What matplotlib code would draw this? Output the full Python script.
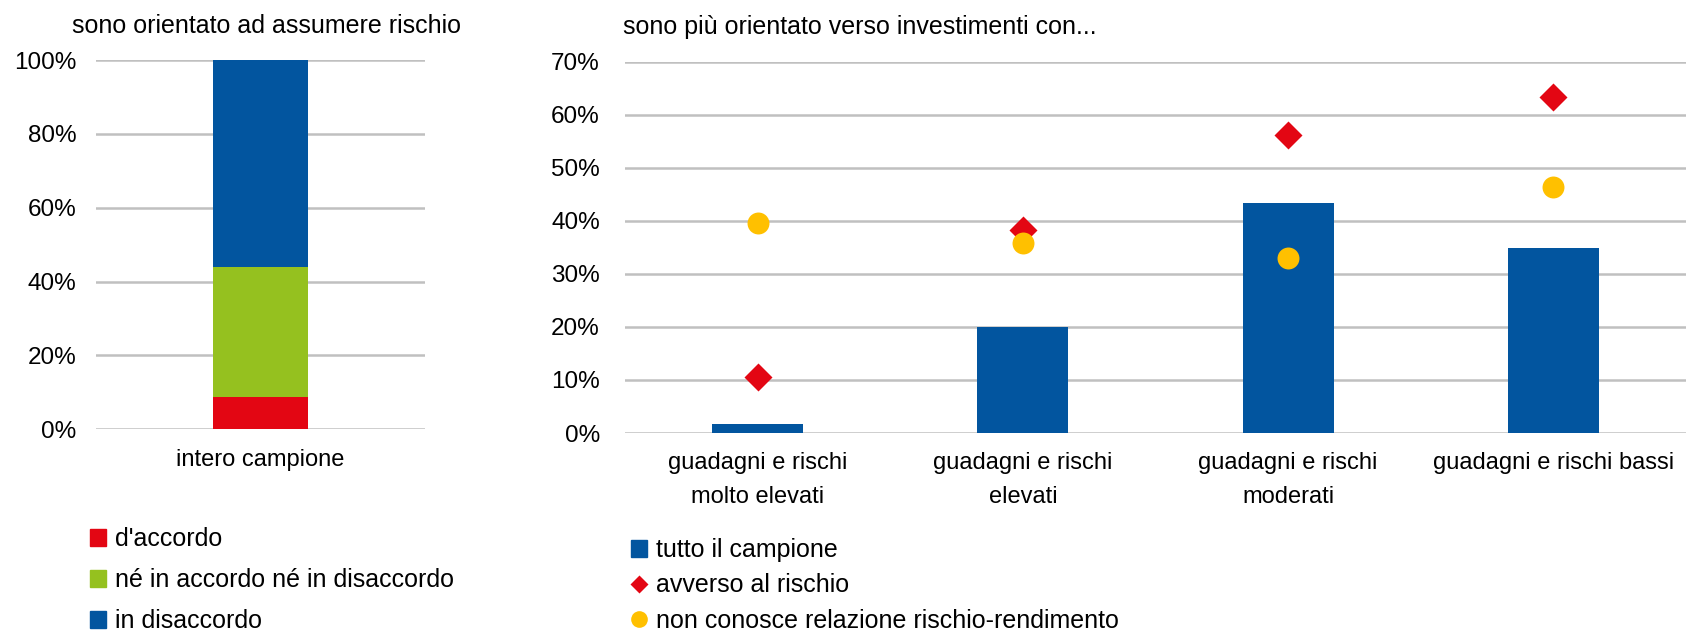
import matplotlib
matplotlib.use("Agg")
import matplotlib.pyplot as plt
from matplotlib.patches import Patch
from matplotlib.lines import Line2D
from matplotlib.ticker import PercentFormatter

plt.rcParams["font.family"] = ["Liberation Sans", "DejaVu Sans"]

# left panel: one stacked bar
left_cat = ["intero campione"]
left_labels = ["d'accordo", "né in accordo né in disaccordo", "in disaccordo"]
left_vals = [8.7, 35.2, 56.1]
left_colors = ["#E30613", "#95C11F", "#02559F"]

# right panel
cats = ["guadagni e rischi\nmolto elevati", "guadagni e rischi\nelevati",
        "guadagni e rischi\nmoderati", "guadagni e rischi bassi"]
tutto = [1.7, 19.9, 43.3, 34.8]
avverso = [10.5, 38.3, 56.2, 63.3]
non_conosce = [39.6, 35.8, 32.9, 46.3]

BLUE, RED, YEL = "#02559F", "#E30613", "#FFC000"
GRID = "#C0C0C0"
FS_T, FS_Y, FS_X, FS_L = 18, 17.5, 17, 18

W, H = 1686, 633
fig = plt.figure(figsize=(W / 100, H / 100), dpi=100)


def px_axes(x0, y0, x1, y1):
    return fig.add_axes([x0 / W, 1 - y1 / H, (x1 - x0) / W, (y1 - y0) / H])


def style(ax, ypad):
    for s in ax.spines.values():
        s.set_visible(False)
    ax.yaxis.grid(True, color=GRID, lw=1.8)
    ax.set_axisbelow(True)
    ax.tick_params(length=0)
    ax.tick_params(axis="y", labelsize=FS_Y, pad=ypad)
    ax.tick_params(axis="x", labelsize=FS_X, pad=14)
    ax.yaxis.set_major_formatter(PercentFormatter(decimals=0))


# ---- left
axl = px_axes(96, 60, 425, 429.3)
bottom = 0
for lab, v, c in zip(left_labels, left_vals, left_colors):
    axl.bar(left_cat, v, bottom=bottom, width=0.286, color=c, label=lab)
    bottom += v
axl.set_ylim(0, 100)
axl.set_xlim(-0.5, 0.5)
axl.set_yticks(range(0, 101, 20))
style(axl, 14)
fig.text(72 / W, 1 - 26 / H, "sono orientato ad assumere rischio", fontsize=FS_T,
         va="center", ha="left")

hl = [Patch(color=c) for c in left_colors]
fig.legend(hl, left_labels, loc="upper left", bbox_to_anchor=(80 / W, 1 - 517 / H),
           frameon=False, fontsize=FS_L, handlelength=0.65, handleheight=0.65,
           handletextpad=0.35, labelspacing=0.69, borderaxespad=0)

# ---- right
axr = px_axes(625, 61.7, 1686, 433)
x = range(len(cats))
axr.bar(x, tutto, width=0.343, color=BLUE, zorder=2)
axr.plot(x, avverso, ls="none", marker="D", ms=14.3, color=RED, mec="none", zorder=3)
axr.plot(x, non_conosce, ls="none", marker="o", ms=15.8, color=YEL, mec="none", zorder=4)
axr.set_xlim(-0.5, len(cats) - 0.5)
axr.set_ylim(0, 70)
axr.set_yticks(range(0, 71, 10))
axr.set_xticks(list(x))
axr.set_xticklabels(cats, linespacing=1.7)
style(axr, 18)
fig.text(623 / W, 1 - 27 / H, "sono più orientato verso investimenti con...", fontsize=FS_T,
         va="center", ha="left")

hr = [Patch(color=BLUE),
      Line2D([], [], ls="none", marker="D", ms=9, color=RED, mec="none"),
      Line2D([], [], ls="none", marker="o", ms=12, color=YEL, mec="none")]
fig.legend(hr, ["tutto il campione", "avverso al rischio", "non conosce relazione rischio-rendimento"],
           loc="upper left", bbox_to_anchor=(621 / W, 1 - 528 / H),
           frameon=False, fontsize=FS_L, handlelength=0.65, handleheight=0.65,
           handletextpad=0.35, labelspacing=0.46, borderaxespad=0)

fig.savefig("out.png", dpi=100)
